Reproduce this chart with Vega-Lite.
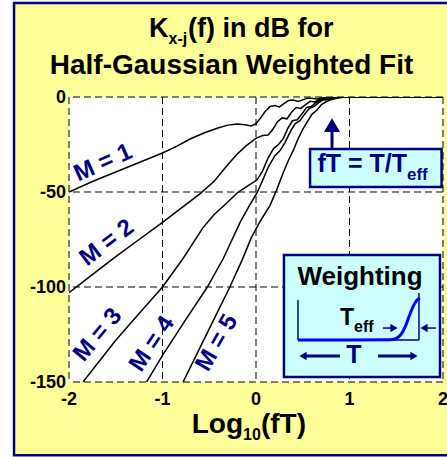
{
  "$schema": "https://vega.github.io/schema/vega-lite/v6.json",
  "width": 374,
  "height": 285,
  "autosize": {"type": "none"},
  "padding": {"left": 69, "top": 97, "right": 4, "bottom": 75},
  "background": "#FFFF99",
  "view": {"stroke": null},
  "config": {"font": "Liberation Sans"},
  "datasets": {
    "margin": [
      {"x": -3.5, "x2": -2.588, "y": 60, "y2": -200},
      {"x": -3.5, "x2": 2.5, "y": 60, "y2": 49.5},
      {"x": -3.5, "x2": 2.5, "y": -188.7, "y2": -200}
    ],
    "frame": [{"x": -2.588, "x2": 2.25, "y": 49.5, "y2": -188.6}],
    "plot": [{"x": -2, "x2": 2, "y": 0, "y2": -150}],
    "gridx": [{"x": -2, "label": "-2"}, {"x": -1, "label": "-1"}, {"x": 0, "label": "0"}, {"x": 1, "label": "1"}, {"x": 2, "label": "2"}],
    "gridy": [{"y": 0, "label": "0"}, {"y": -50, "label": "-50"}, {"y": -100, "label": "-100"}, {"y": -150, "label": "-150"}],
    "curves": [
      {"M": "1", "x": -2, "y": -50}, {"M": "1", "x": -1.75, "y": -44.5}, {"M": "1", "x": -1.5, "y": -39.5}, {"M": "1", "x": -1.25, "y": -34.5}, {"M": "1", "x": -1, "y": -29.5}, {"M": "1", "x": -0.85, "y": -26}, {"M": "1", "x": -0.7, "y": -22}, {"M": "1", "x": -0.55, "y": -18.8}, {"M": "1", "x": -0.4, "y": -16.2}, {"M": "1", "x": -0.3, "y": -14.8}, {"M": "1", "x": -0.2, "y": -14.2}, {"M": "1", "x": -0.12, "y": -14.6}, {"M": "1", "x": -0.05, "y": -15.2}, {"M": "1", "x": 0, "y": -14}, {"M": "1", "x": 0.05, "y": -11}, {"M": "1", "x": 0.1, "y": -7.5}, {"M": "1", "x": 0.15, "y": -5}, {"M": "1", "x": 0.2, "y": -4.5}, {"M": "1", "x": 0.25, "y": -5.2}, {"M": "1", "x": 0.3, "y": -3.5}, {"M": "1", "x": 0.35, "y": -1.8}, {"M": "1", "x": 0.4, "y": -1.6}, {"M": "1", "x": 0.45, "y": -2.4}, {"M": "1", "x": 0.5, "y": -1.5}, {"M": "1", "x": 0.55, "y": -0.6}, {"M": "1", "x": 0.6, "y": -0.6}, {"M": "1", "x": 0.65, "y": -1}, {"M": "1", "x": 0.7, "y": -0.5}, {"M": "1", "x": 0.75, "y": -0.2}, {"M": "1", "x": 0.8, "y": -0.3}, {"M": "1", "x": 0.9, "y": -0.1}, {"M": "1", "x": 1, "y": 0}, {"M": "1", "x": 2, "y": 0},
      {"M": "2", "x": -2, "y": -103}, {"M": "2", "x": -1.75, "y": -93.5}, {"M": "2", "x": -1.5, "y": -84}, {"M": "2", "x": -1.25, "y": -75}, {"M": "2", "x": -1, "y": -66}, {"M": "2", "x": -0.8, "y": -58.5}, {"M": "2", "x": -0.6, "y": -51}, {"M": "2", "x": -0.45, "y": -44.5}, {"M": "2", "x": -0.3, "y": -35.5}, {"M": "2", "x": -0.2, "y": -30}, {"M": "2", "x": -0.1, "y": -25.5}, {"M": "2", "x": 0, "y": -21.8}, {"M": "2", "x": 0.07, "y": -20.3}, {"M": "2", "x": 0.13, "y": -20}, {"M": "2", "x": 0.18, "y": -17}, {"M": "2", "x": 0.23, "y": -13}, {"M": "2", "x": 0.28, "y": -11}, {"M": "2", "x": 0.33, "y": -11.5}, {"M": "2", "x": 0.38, "y": -8}, {"M": "2", "x": 0.43, "y": -5.5}, {"M": "2", "x": 0.48, "y": -6}, {"M": "2", "x": 0.53, "y": -4}, {"M": "2", "x": 0.58, "y": -2.3}, {"M": "2", "x": 0.63, "y": -2.6}, {"M": "2", "x": 0.68, "y": -1.3}, {"M": "2", "x": 0.74, "y": -0.7}, {"M": "2", "x": 0.8, "y": -0.8}, {"M": "2", "x": 0.88, "y": -0.2}, {"M": "2", "x": 1, "y": 0}, {"M": "2", "x": 2, "y": 0},
      {"M": "3", "x": -1.85, "y": -150}, {"M": "3", "x": -1.5, "y": -128}, {"M": "3", "x": -1.25, "y": -114}, {"M": "3", "x": -1, "y": -100}, {"M": "3", "x": -0.78, "y": -85}, {"M": "3", "x": -0.57, "y": -69}, {"M": "3", "x": -0.45, "y": -62}, {"M": "3", "x": -0.35, "y": -57.5}, {"M": "3", "x": -0.19, "y": -50}, {"M": "3", "x": -0.08, "y": -46.5}, {"M": "3", "x": 0.01, "y": -43.7}, {"M": "3", "x": 0.07, "y": -39}, {"M": "3", "x": 0.13, "y": -32}, {"M": "3", "x": 0.19, "y": -27}, {"M": "3", "x": 0.24, "y": -25}, {"M": "3", "x": 0.29, "y": -22}, {"M": "3", "x": 0.34, "y": -16.5}, {"M": "3", "x": 0.39, "y": -12.5}, {"M": "3", "x": 0.44, "y": -12}, {"M": "3", "x": 0.49, "y": -9}, {"M": "3", "x": 0.54, "y": -5.5}, {"M": "3", "x": 0.59, "y": -5}, {"M": "3", "x": 0.64, "y": -3}, {"M": "3", "x": 0.7, "y": -1.5}, {"M": "3", "x": 0.75, "y": -1.5}, {"M": "3", "x": 0.82, "y": -0.5}, {"M": "3", "x": 0.92, "y": 0}, {"M": "3", "x": 2, "y": 0},
      {"M": "4", "x": -1.17, "y": -150}, {"M": "4", "x": -1, "y": -136}, {"M": "4", "x": -0.75, "y": -117}, {"M": "4", "x": -0.52, "y": -100}, {"M": "4", "x": -0.35, "y": -85}, {"M": "4", "x": -0.17, "y": -66}, {"M": "4", "x": -0.08, "y": -58}, {"M": "4", "x": 0.01, "y": -50.5}, {"M": "4", "x": 0.07, "y": -44}, {"M": "4", "x": 0.13, "y": -37}, {"M": "4", "x": 0.2, "y": -31}, {"M": "4", "x": 0.26, "y": -28}, {"M": "4", "x": 0.31, "y": -24}, {"M": "4", "x": 0.37, "y": -18}, {"M": "4", "x": 0.42, "y": -14}, {"M": "4", "x": 0.47, "y": -12.5}, {"M": "4", "x": 0.52, "y": -9}, {"M": "4", "x": 0.57, "y": -6}, {"M": "4", "x": 0.62, "y": -5}, {"M": "4", "x": 0.67, "y": -3}, {"M": "4", "x": 0.72, "y": -1.5}, {"M": "4", "x": 0.78, "y": -1.2}, {"M": "4", "x": 0.85, "y": -0.3}, {"M": "4", "x": 0.95, "y": 0}, {"M": "4", "x": 2, "y": 0},
      {"M": "5", "x": -0.78, "y": -150}, {"M": "5", "x": -0.55, "y": -127}, {"M": "5", "x": -0.28, "y": -100}, {"M": "5", "x": -0.15, "y": -86}, {"M": "5", "x": -0.05, "y": -74}, {"M": "5", "x": 0.05, "y": -65}, {"M": "5", "x": 0.15, "y": -57}, {"M": "5", "x": 0.22, "y": -49}, {"M": "5", "x": 0.29, "y": -40}, {"M": "5", "x": 0.35, "y": -33}, {"M": "5", "x": 0.4, "y": -28}, {"M": "5", "x": 0.45, "y": -22}, {"M": "5", "x": 0.5, "y": -17}, {"M": "5", "x": 0.55, "y": -13}, {"M": "5", "x": 0.6, "y": -9}, {"M": "5", "x": 0.65, "y": -7}, {"M": "5", "x": 0.7, "y": -4}, {"M": "5", "x": 0.75, "y": -2.5}, {"M": "5", "x": 0.8, "y": -1.5}, {"M": "5", "x": 0.87, "y": -0.5}, {"M": "5", "x": 0.95, "y": 0}, {"M": "5", "x": 2, "y": 0}
    ],
    "texts": [
      {"id": "K", "text": "K", "x": -0.936, "y": 31.6},
      {"id": "Ksub", "text": "x-j", "x": -0.936, "y": 27.9},
      {"id": "title1", "text": "(f) in dB for", "x": -0.727, "y": 31.6},
      {"id": "title2", "text": "Half-Gaussian Weighted Fit", "x": -0.262, "y": 12.1},
      {"id": "Log", "text": "Log", "x": -0.139, "y": -176.8},
      {"id": "Logsub", "text": "10", "x": -0.139, "y": -180.5},
      {"id": "fT", "text": "(fT)", "x": 0.053, "y": -176.8},
      {"id": "M1", "text": "M = 1", "x": -1.636, "y": -34.7},
      {"id": "M2", "text": "M = 2", "x": -1.594, "y": -76.8},
      {"id": "M3", "text": "M = 3", "x": -1.69, "y": -125.3},
      {"id": "M4", "text": "M = 4", "x": -1.11, "y": -130},
      {"id": "M5", "text": "M = 5", "x": -0.417, "y": -129.5},
      {"id": "box1", "text": "fT = T/T", "x": 1.615, "y": -39.5},
      {"id": "box1sub", "text": "eff", "x": 1.615, "y": -43.7},
      {"id": "wt", "text": "Weighting", "x": 1.112, "y": -98.9},
      {"id": "teff", "text": "T", "x": 1.048, "y": -120},
      {"id": "teffsub", "text": "eff", "x": 1.048, "y": -123.7},
      {"id": "tT", "text": "T", "x": 1.048, "y": -140}
    ],
    "boxes": [
      {"x": 0.578, "x2": 1.985, "y": -27.4, "y2": -47.4},
      {"x": 0.299, "x2": 1.968, "y": -83.2, "y2": -147.4}
    ],
    "thick": [
      {"x": 0.813, "x2": 0.813, "y": -27.4, "y2": -17},
      {"x": 0.52, "x2": 0.898, "y": -136.3, "y2": -136.3},
      {"x": 1.305, "x2": 1.67, "y": -136.3, "y2": -136.3}
    ],
    "thin": [
      {"x": 1.358, "x2": 1.46, "y": -121.6, "y2": -121.6},
      {"x": 1.925, "x2": 1.82, "y": -121.6, "y2": -121.6},
      {"x": 0.449, "x2": 0.449, "y": -106.8, "y2": -127.9},
      {"x": 0.449, "x2": 1.743, "y": -127.9, "y2": -127.9},
      {"x": 1.743, "x2": 1.743, "y": -103.2, "y2": -127.9}
    ],
    "heads": [
      {"dir": "up", "x": 0.813, "y": -14.8},
      {"dir": "right", "x": 1.476, "y": -121.6},
      {"dir": "left", "x": 1.797, "y": -121.6},
      {"dir": "left", "x": 0.503, "y": -136.3},
      {"dir": "right", "x": 1.69, "y": -136.3}
    ],
    "weight": [
      {"x": 0.449, "y": -127.9}, {"x": 1.0, "y": -127.9}, {"x": 1.433, "y": -127.8}, {"x": 1.5, "y": -127}, {"x": 1.55, "y": -125}, {"x": 1.6, "y": -120.5}, {"x": 1.647, "y": -114.2}, {"x": 1.69, "y": -109.3}, {"x": 1.722, "y": -106.8}, {"x": 1.754, "y": -105.8}
    ]
  },
  "layer": [
    {
      "data": {"name": "margin"},
      "mark": {"type": "rect", "fill": "white"},
      "encoding": {
        "x": {"field": "x", "type": "quantitative", "scale": {"domain": [-2, 2], "nice": false, "zero": false}, "axis": null},
        "x2": {"field": "x2"},
        "y": {"field": "y", "type": "quantitative", "scale": {"domain": [-150, 0], "nice": false, "zero": false}, "axis": null},
        "y2": {"field": "y2"}
      }
    },
    {
      "data": {"name": "frame"},
      "mark": {"type": "rect", "fill": null, "fillOpacity": 0, "stroke": "#000080", "strokeWidth": 2.5},
      "encoding": {
        "x": {"field": "x", "type": "quantitative", "axis": null}, "x2": {"field": "x2"},
        "y": {"field": "y", "type": "quantitative", "axis": null}, "y2": {"field": "y2"}
      }
    },
    {
      "data": {"name": "plot"},
      "mark": {"type": "rect", "fill": "white"},
      "encoding": {
        "x": {"field": "x", "type": "quantitative", "axis": null}, "x2": {"field": "x2"},
        "y": {"field": "y", "type": "quantitative", "axis": null}, "y2": {"field": "y2"}
      }
    },
    {
      "data": {"name": "gridx"},
      "mark": {"type": "rule", "color": "black", "strokeWidth": 1, "strokeDash": [7, 4]},
      "encoding": {"x": {"field": "x", "type": "quantitative", "axis": null}}
    },
    {
      "data": {"name": "gridy"},
      "mark": {"type": "rule", "color": "black", "strokeWidth": 1, "strokeDash": [7, 4]},
      "encoding": {"y": {"field": "y", "type": "quantitative", "axis": null}}
    },
    {
      "data": {"name": "gridx"},
      "mark": {"type": "text", "font": "Liberation Sans", "fontWeight": "bold", "fontSize": 18, "color": "black", "align": "center", "baseline": "alphabetic", "dy": 23},
      "encoding": {"x": {"field": "x", "type": "quantitative", "axis": null}, "y": {"datum": -150, "type": "quantitative", "axis": null}, "text": {"field": "label"}}
    },
    {
      "data": {"name": "gridy"},
      "mark": {"type": "text", "font": "Liberation Sans", "fontWeight": "bold", "fontSize": 18, "color": "black", "align": "right", "baseline": "middle", "dx": -3, "dy": 1},
      "encoding": {"x": {"datum": -2, "type": "quantitative", "axis": null}, "y": {"field": "y", "type": "quantitative", "axis": null}, "text": {"field": "label"}}
    },
    {
      "data": {"name": "curves"},
      "mark": {"type": "line", "color": "black", "strokeWidth": 1.5, "clip": true},
      "encoding": {
        "x": {"field": "x", "type": "quantitative", "axis": null},
        "y": {"field": "y", "type": "quantitative", "axis": null},
        "detail": {"field": "M"}
      }
    },
    {
      "data": {"name": "boxes"},
      "mark": {"type": "rect", "fill": "#CCFFFF", "stroke": "#000080", "strokeWidth": 2.5},
      "encoding": {
        "x": {"field": "x", "type": "quantitative", "axis": null}, "x2": {"field": "x2"},
        "y": {"field": "y", "type": "quantitative", "axis": null}, "y2": {"field": "y2"}
      }
    },
    {
      "data": {"name": "thick"},
      "mark": {"type": "rule", "color": "#000080", "strokeWidth": 3},
      "encoding": {
        "x": {"field": "x", "type": "quantitative", "axis": null}, "x2": {"field": "x2"},
        "y": {"field": "y", "type": "quantitative", "axis": null}, "y2": {"field": "y2"}
      }
    },
    {
      "data": {"name": "thin"},
      "mark": {"type": "rule", "color": "#000080", "strokeWidth": 1.5},
      "encoding": {
        "x": {"field": "x", "type": "quantitative", "axis": null}, "x2": {"field": "x2"},
        "y": {"field": "y", "type": "quantitative", "axis": null}, "y2": {"field": "y2"}
      }
    },
    {
      "data": {"name": "weight"},
      "mark": {"type": "line", "color": "#0000FF", "strokeWidth": 3, "interpolate": "monotone"},
      "encoding": {
        "x": {"field": "x", "type": "quantitative", "axis": null},
        "y": {"field": "y", "type": "quantitative", "axis": null}
      }
    },
    {
      "data": {"name": "heads"},
      "transform": [{"filter": "datum.dir == 'up'"}],
      "mark": {"type": "point", "shape": "triangle-up", "filled": true, "color": "#000080", "opacity": 1, "size": 260},
      "encoding": {"x": {"field": "x", "type": "quantitative", "axis": null}, "y": {"field": "y", "type": "quantitative", "axis": null}}
    },
    {
      "data": {"name": "heads"},
      "transform": [{"filter": "datum.dir == 'right'"}],
      "mark": {"type": "point", "shape": "triangle-right", "filled": true, "color": "#000080", "opacity": 1, "size": 70},
      "encoding": {"x": {"field": "x", "type": "quantitative", "axis": null}, "y": {"field": "y", "type": "quantitative", "axis": null}}
    },
    {
      "data": {"name": "heads"},
      "transform": [{"filter": "datum.dir == 'left'"}],
      "mark": {"type": "point", "shape": "triangle-left", "filled": true, "color": "#000080", "opacity": 1, "size": 70},
      "encoding": {"x": {"field": "x", "type": "quantitative", "axis": null}, "y": {"field": "y", "type": "quantitative", "axis": null}}
    },
    {
      "data": {"name": "texts"},
      "transform": [{"filter": "datum.id == 'K'"}],
      "mark": {"type": "text", "font": "Liberation Sans", "fontWeight": "bold", "fontSize": 27, "color": "black", "align": "right", "baseline": "alphabetic"},
      "encoding": {"x": {"field": "x", "type": "quantitative", "axis": null}, "y": {"field": "y", "type": "quantitative", "axis": null}, "text": {"field": "text"}}
    },
    {
      "data": {"name": "texts"},
      "transform": [{"filter": "datum.id == 'Ksub' || datum.id == 'Logsub'"}],
      "mark": {"type": "text", "font": "Liberation Sans", "fontWeight": "bold", "fontSize": 16, "color": "black", "align": "left", "baseline": "alphabetic"},
      "encoding": {"x": {"field": "x", "type": "quantitative", "axis": null}, "y": {"field": "y", "type": "quantitative", "axis": null}, "text": {"field": "text"}}
    },
    {
      "data": {"name": "texts"},
      "transform": [{"filter": "datum.id == 'title1'"}],
      "mark": {"type": "text", "font": "Liberation Sans", "fontWeight": "bold", "fontSize": 27, "color": "black", "align": "left", "baseline": "alphabetic"},
      "encoding": {"x": {"field": "x", "type": "quantitative", "axis": null}, "y": {"field": "y", "type": "quantitative", "axis": null}, "text": {"field": "text"}}
    },
    {
      "data": {"name": "texts"},
      "transform": [{"filter": "datum.id == 'fT'"}],
      "mark": {"type": "text", "font": "Liberation Sans", "fontWeight": "bold", "fontSize": 28, "color": "black", "align": "left", "baseline": "alphabetic"},
      "encoding": {"x": {"field": "x", "type": "quantitative", "axis": null}, "y": {"field": "y", "type": "quantitative", "axis": null}, "text": {"field": "text"}}
    },
    {
      "data": {"name": "texts"},
      "transform": [{"filter": "datum.id == 'title2'"}],
      "mark": {"type": "text", "font": "Liberation Sans", "fontWeight": "bold", "fontSize": 28, "color": "black", "align": "center", "baseline": "alphabetic"},
      "encoding": {"x": {"field": "x", "type": "quantitative", "axis": null}, "y": {"field": "y", "type": "quantitative", "axis": null}, "text": {"field": "text"}}
    },
    {
      "data": {"name": "texts"},
      "transform": [{"filter": "datum.id == 'Log'"}],
      "mark": {"type": "text", "font": "Liberation Sans", "fontWeight": "bold", "fontSize": 28, "color": "black", "align": "right", "baseline": "alphabetic"},
      "encoding": {"x": {"field": "x", "type": "quantitative", "axis": null}, "y": {"field": "y", "type": "quantitative", "axis": null}, "text": {"field": "text"}}
    },
    {
      "data": {"name": "texts"},
      "transform": [{"filter": "datum.id == 'M1'"}],
      "mark": {"type": "text", "font": "Liberation Sans", "fontWeight": "bold", "fontSize": 24, "color": "#000080", "align": "center", "baseline": "middle", "angle": 336},
      "encoding": {"x": {"field": "x", "type": "quantitative", "axis": null}, "y": {"field": "y", "type": "quantitative", "axis": null}, "text": {"field": "text"}}
    },
    {
      "data": {"name": "texts"},
      "transform": [{"filter": "datum.id == 'M2'"}],
      "mark": {"type": "text", "font": "Liberation Sans", "fontWeight": "bold", "fontSize": 24, "color": "#000080", "align": "center", "baseline": "middle", "angle": 323},
      "encoding": {"x": {"field": "x", "type": "quantitative", "axis": null}, "y": {"field": "y", "type": "quantitative", "axis": null}, "text": {"field": "text"}}
    },
    {
      "data": {"name": "texts"},
      "transform": [{"filter": "datum.id == 'M3'"}],
      "mark": {"type": "text", "font": "Liberation Sans", "fontWeight": "bold", "fontSize": 24, "color": "#000080", "align": "center", "baseline": "middle", "angle": 310},
      "encoding": {"x": {"field": "x", "type": "quantitative", "axis": null}, "y": {"field": "y", "type": "quantitative", "axis": null}, "text": {"field": "text"}}
    },
    {
      "data": {"name": "texts"},
      "transform": [{"filter": "datum.id == 'M4'"}],
      "mark": {"type": "text", "font": "Liberation Sans", "fontWeight": "bold", "fontSize": 24, "color": "#000080", "align": "center", "baseline": "middle", "angle": 304},
      "encoding": {"x": {"field": "x", "type": "quantitative", "axis": null}, "y": {"field": "y", "type": "quantitative", "axis": null}, "text": {"field": "text"}}
    },
    {
      "data": {"name": "texts"},
      "transform": [{"filter": "datum.id == 'M5'"}],
      "mark": {"type": "text", "font": "Liberation Sans", "fontWeight": "bold", "fontSize": 24, "color": "#000080", "align": "center", "baseline": "middle", "angle": 300},
      "encoding": {"x": {"field": "x", "type": "quantitative", "axis": null}, "y": {"field": "y", "type": "quantitative", "axis": null}, "text": {"field": "text"}}
    },
    {
      "data": {"name": "texts"},
      "transform": [{"filter": "datum.id == 'box1'"}],
      "mark": {"type": "text", "font": "Liberation Sans", "fontWeight": "bold", "fontSize": 25, "color": "#000080", "align": "right", "baseline": "alphabetic"},
      "encoding": {"x": {"field": "x", "type": "quantitative", "axis": null}, "y": {"field": "y", "type": "quantitative", "axis": null}, "text": {"field": "text"}}
    },
    {
      "data": {"name": "texts"},
      "transform": [{"filter": "datum.id == 'box1sub'"}],
      "mark": {"type": "text", "font": "Liberation Sans", "fontWeight": "bold", "fontSize": 17, "color": "#000080", "align": "left", "baseline": "alphabetic"},
      "encoding": {"x": {"field": "x", "type": "quantitative", "axis": null}, "y": {"field": "y", "type": "quantitative", "axis": null}, "text": {"field": "text"}}
    },
    {
      "data": {"name": "texts"},
      "transform": [{"filter": "datum.id == 'wt'"}],
      "mark": {"type": "text", "font": "Liberation Sans", "fontWeight": "bold", "fontSize": 26, "color": "black", "align": "center", "baseline": "alphabetic"},
      "encoding": {"x": {"field": "x", "type": "quantitative", "axis": null}, "y": {"field": "y", "type": "quantitative", "axis": null}, "text": {"field": "text"}}
    },
    {
      "data": {"name": "texts"},
      "transform": [{"filter": "datum.id == 'teff'"}],
      "mark": {"type": "text", "font": "Liberation Sans", "fontWeight": "bold", "fontSize": 23, "color": "black", "align": "right", "baseline": "alphabetic"},
      "encoding": {"x": {"field": "x", "type": "quantitative", "axis": null}, "y": {"field": "y", "type": "quantitative", "axis": null}, "text": {"field": "text"}}
    },
    {
      "data": {"name": "texts"},
      "transform": [{"filter": "datum.id == 'teffsub'"}],
      "mark": {"type": "text", "font": "Liberation Sans", "fontWeight": "bold", "fontSize": 16, "color": "black", "align": "left", "baseline": "alphabetic"},
      "encoding": {"x": {"field": "x", "type": "quantitative", "axis": null}, "y": {"field": "y", "type": "quantitative", "axis": null}, "text": {"field": "text"}}
    },
    {
      "data": {"name": "texts"},
      "transform": [{"filter": "datum.id == 'tT'"}],
      "mark": {"type": "text", "font": "Liberation Sans", "fontWeight": "bold", "fontSize": 25, "color": "#000080", "align": "center", "baseline": "alphabetic"},
      "encoding": {"x": {"field": "x", "type": "quantitative", "axis": null}, "y": {"field": "y", "type": "quantitative", "axis": null}, "text": {"field": "text"}}
    }
  ]
}
